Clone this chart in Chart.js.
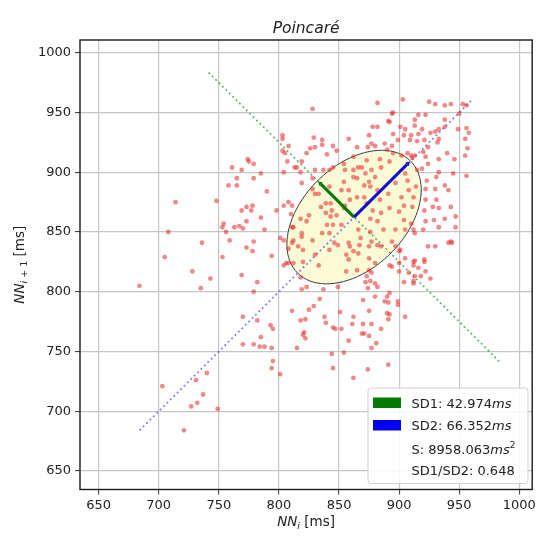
<!DOCTYPE html>
<html>
<head>
<meta charset="utf-8">
<script src="https://cdn.jsdelivr.net/npm/chart.js@4.4.0/dist/chart.umd.min.js"></script>
<style>
  body { margin: 0; background: #fff; }
  canvas { display: block; }
</style>
</head>
<body>
<canvas id="poincare" width="539" height="536"></canvas>
<script>
// --- data (ms) ---
// each pair is [NN_i, NN_i+1]
const nnPoints = [
  // upper left cloud
  [803,931],[803,928],[808,922],[803,918],[805,916],[807,909],[804,900],[813,904],[774,911],[775,909],[779,907],[761,904],
  [769,902],[785,899],[765,895],[779,895],[758,889],[765,889],[790,884],[714,875],[748,876],[773,871],[778,872],[769,868],
  [777,868],[798,868],[808,875],[804,872],[811,872],[785,862],[773,859],[754,857],[753,854],[756,850],[767,855],[770,853],
  [788,852],[708,850],[736,841],[759,843],[779,842],[801,845],[804,843],[773,837],[778,834],[808,836],[705,829],[753,829],
  // lower left
  [794,830],[808,824],[728,817],[769,814],[743,811],[782,808],[684,805],[735,803],[779,800],[811,784],[770,779],[782,776],
  [793,772],[795,769],[785,762],[770,756],[779,756],[784,754],[788,754],[794,753],[815,753],[795,742],[794,736],[801,731],
  [740,732],[731,726],[703,721],[737,714],[732,707],[727,704],[749,702],[721,684],
  [818,812],[819,802],[823,804],[837,802],[834,794],[829,788],[825,785],[822,777],[818,776],[838,779],[839,774],[845,770],
  [847,769],[821,766],[820,764],[822,761],[844,748],[845,736],[833,822],
  // lower right
  [856,817],[865,818],[873,813],[877,816],[872,808],[876,809],[880,807],[892,822],[894,821],[900,824],[900,817],[908,816],
  [912,825],[921,825],[916,820],[913,813],[912,807],[922,817],[926,811],[904,808],[892,799],[890,796],[888,792],[880,796],
  [870,793],[875,784],[891,791],[899,792],[899,789],[890,782],[892,781],[891,777],[905,779],[851,783],[862,779],[861,773],
  [870,773],[852,769],[871,765],[877,773],[885,769],[858,759],[881,757],[877,753],[854,749],[891,739],[874,735],[862,728],
  [875,763],[869,765],[812,824],[806,824],[849,804],[874,803],[882,804],[867,839],[875,838],[882,839],[897,838],[900,834],
  [905,828],[913,826],[921,827],[912,822],[912,809],[944,841],[930,838],[858,827],[820,835],[858,841],[804,822],[918,813],
  // upper middle
  [828,953],[829,929],[836,927],[836,923],[840,915],[823,916],[830,921],[819,909],[815,904],[818,900],[830,902],[837,902],
  [842,902],[845,904],[819,891],[828,895],[828,886],[830,882],[833,882],[810,865],[825,864],[818,861],[823,859],[763,854],
  [811,854],[812,843],[819,846],[828,843],[836,849],[840,856],[843,863],[835,871],[839,866],[845,856],[843,874],
  // upper right
  [882,958],[903,961],[925,959],[930,957],[938,956],[943,957],[953,957],[956,956],[950,949],[894,949],[916,948],[922,948],
  [913,944],[938,944],[892,942],[878,938],[901,938],[905,936],[913,939],[919,936],[926,933],[930,934],[933,936],[938,938],
  [949,936],[956,937],[895,932],[904,931],[910,931],[916,932],[899,927],[909,927],[915,926],[921,927],[933,928],[932,925],
  [924,921],[955,928],[877,924],[874,921],[880,922],[888,924],[894,922],[890,919],[895,916],[902,914],[910,914],[913,914],
  [920,917],[922,913],[933,911],[940,916],[946,911],[955,914],[924,907],[919,903],[915,902],[933,900],[945,899],[956,897],
  [923,893],[931,896],[938,889],[941,885],[922,886],[930,886],[922,877],[931,877],[943,871],[933,870],[921,868],[929,860],
  [938,861],[933,854],[947,863],[947,854],[922,859],[920,852],[913,849],[924,838],[943,842],[907,916],[911,912],
  // inside the ellipse
  [855,902],[862,902],[865,895],[869,904],[877,902],[885,904],[892,909],[880,896],[871,889],[876,888],[882,885],[897,891],
  [905,899],[907,893],[852,885],[858,885],[865,879],[871,879],[873,874],[859,877],[854,870],[884,877],[891,882],[902,879],
  [908,885],[914,888],[912,879],[911,871],[904,872],[900,867],[892,870],[885,866],[878,868],[876,861],[882,859],[904,860],
  [910,857],[905,852],[897,852],[887,852],[876,850],[866,852],[868,845],[859,838],[877,842],[885,838],[894,842],[901,835],
  [912,852],[812,854],[819,849],[811,841],[842,849],[846,841],[842,835],[852,856],[848,864],[844,868],[855,872],[839,874],
  [842,888],[854,892],[862,896],[866,904],[872,899],[875,892],[854,907],[862,913],[873,910],[884,911],[865,921],[848,918],
  [895,950],[891,943],[882,938],[858,928],[875,931],[845,922],[826,920],[957,920],[941,841],[928,871],[958,933],
  [816,838],[820,825],[830,831],[849,839],[856,831],[862,834],[866,832],[875,828],[880,824],[875,818]
];

const xTicks = [650, 700, 750, 800, 850, 900, 950, 1000];
const yTicks = [650, 700, 750, 800, 850, 900, 950, 1000];
const axisMin = 634.5;
const axisMax = 1010.7;

// Poincaré parameters
const nnMean = 862.5;
const sd1 = 42.974;
const sd2 = 66.352;
const ellipseArea = 8958.063;
const sdRatio = 0.648;
const nnRange = [684, 961];   // identity line from min(nn) to max(nn)
const sd1Reach = 121;         // half extent of the SD1 axis line

const FONT = "'DejaVu Sans', sans-serif";
const TXT = '#222222';

function font(size, italic) {
    return (italic ? 'italic ' : '') + size + 'px ' + FONT;
}

// draws a row of text pieces [text, size, italic, dy]
function drawRuns(ctx, runs, x, y, align) {
    ctx.textAlign = 'left';
    let w = 0;
    runs.forEach(r => { ctx.font = font(r[1], r[2]); w += ctx.measureText(r[0]).width; });
    let cx = align === 'center' ? x - w / 2 : x;
    runs.forEach(r => {
        ctx.font = font(r[1], r[2]);
        ctx.fillText(r[0], cx, y + (r[3] || 0));
        cx += ctx.measureText(r[0]).width;
    });
}

const poincarePlugin = {
    id: 'poincareExtras',
    beforeDatasetsDraw(chart) {
        const { ctx, scales: { x, y } } = chart;
        // SD ellipse
        ctx.save();
        ctx.beginPath();
        for (let k = 0; k <= 90; k++) {
            const t = k / 90 * Math.PI * 2;
            const a = sd2 * Math.cos(t) * Math.SQRT1_2;
            const b = sd1 * Math.sin(t) * Math.SQRT1_2;
            const px = x.getPixelForValue(nnMean + a - b);
            const py = y.getPixelForValue(nnMean + a + b);
            k === 0 ? ctx.moveTo(px, py) : ctx.lineTo(px, py);
        }
        ctx.closePath();
        ctx.fillStyle = '#fbfad6';
        ctx.fill();
        ctx.strokeStyle = '#3c3c3c';
        ctx.lineWidth = 1;
        ctx.stroke();
        ctx.restore();
    },
    afterDatasetsDraw(chart) {
        const { ctx, scales: { x, y } } = chart;
        const arrow = (len, dirX, color) => {
            const shaft = len - 4;
            const c0x = x.getPixelForValue(nnMean), c0y = y.getPixelForValue(nnMean);
            const ex = x.getPixelForValue(nnMean + dirX * shaft * Math.SQRT1_2);
            const ey = y.getPixelForValue(nnMean + shaft * Math.SQRT1_2);
            const tx = x.getPixelForValue(nnMean + dirX * (shaft + 3) * Math.SQRT1_2);
            const ty = y.getPixelForValue(nnMean + (shaft + 3) * Math.SQRT1_2);
            ctx.save();
            ctx.strokeStyle = color;
            ctx.fillStyle = color;
            ctx.lineWidth = 3;
            ctx.beginPath();
            ctx.moveTo(c0x, c0y);
            ctx.lineTo(ex, ey);
            ctx.stroke();
            const ang = Math.atan2(ty - ey, tx - ex);
            const hw = 2.6;
            ctx.beginPath();
            ctx.moveTo(tx, ty);
            ctx.lineTo(ex + Math.cos(ang + Math.PI / 2) * hw, ey + Math.sin(ang + Math.PI / 2) * hw);
            ctx.lineTo(ex - Math.cos(ang + Math.PI / 2) * hw, ey - Math.sin(ang + Math.PI / 2) * hw);
            ctx.closePath();
            ctx.fill();
            ctx.restore();
        };
        arrow(sd1, -1, '#007a00');
        arrow(sd2, 1, '#1010c8');
    },
    afterDraw(chart) {
        const { ctx, chartArea: a } = chart;
        ctx.save();
        // axes frame
        ctx.strokeStyle = '#1a1a1a';
        ctx.lineWidth = 1.4;
        ctx.strokeRect(a.left, a.top, a.right - a.left, a.bottom - a.top);

        ctx.fillStyle = TXT;
        ctx.textBaseline = 'alphabetic';
        // title
        drawRuns(ctx, [['Poincaré', 15.5, true]], (a.left + a.right) / 2, 32.5, 'center');
        // x label
        drawRuns(ctx, [['NN', 13.5, true], ['i', 9.5, true, 3], [' [ms]', 13.5, false]],
            (a.left + a.right) / 2, 526, 'center');
        // y label
        ctx.save();
        ctx.translate(23.5, (a.top + a.bottom) / 2);
        ctx.rotate(-Math.PI / 2);
        drawRuns(ctx, [['NN', 13.5, true], ['i', 9.5, true, 3], [' + 1', 9.5, false, 3], [' [ms]', 13.5, false]],
            0, 0, 'center');
        ctx.restore();

        // legend box
        const lx = 368, ly = 388, lw = 160, lh = 95.5, r = 3;
        ctx.beginPath();
        ctx.moveTo(lx + r, ly);
        ctx.arcTo(lx + lw, ly, lx + lw, ly + lh, r);
        ctx.arcTo(lx + lw, ly + lh, lx, ly + lh, r);
        ctx.arcTo(lx, ly + lh, lx, ly, r);
        ctx.arcTo(lx, ly, lx + lw, ly, r);
        ctx.closePath();
        ctx.fillStyle = 'rgba(255,255,255,0.85)';
        ctx.fill();
        ctx.strokeStyle = '#d0d0d0';
        ctx.lineWidth = 1;
        ctx.stroke();

        ctx.fillStyle = '#007a00';
        ctx.fillRect(373, 397.5, 28, 10.5);
        ctx.fillStyle = '#0000f0';
        ctx.fillRect(373, 420, 28, 10.5);

        ctx.fillStyle = TXT;
        const tx = 411.5;
        drawRuns(ctx, [['SD1: ' + sd1.toFixed(3), 13, false], ['ms', 13, true]], tx, 407.5);
        drawRuns(ctx, [['SD2: ' + sd2.toFixed(3), 13, false], ['ms', 13, true]], tx, 430);
        drawRuns(ctx, [['S: ' + ellipseArea.toFixed(3), 13, false], ['ms', 13, true], ['2', 9, false, -6]], tx, 453.5);
        drawRuns(ctx, [['SD1/SD2: ' + sdRatio.toFixed(3), 13, false]], tx, 474.5);
        ctx.restore();
    }
};

const tickFont = { family: FONT, size: 13 };
const gridOpts = { color: '#c6c6c6', lineWidth: 1.2, tickLength: 5, tickColor: '#333333', tickWidth: 1 };
const plainLabel = v => String(v);

new Chart(document.getElementById('poincare'), {
    type: 'scatter',
    data: {
        datasets: [
            {
                label: 'NN',
                data: nnPoints.map(p => ({ x: p[0], y: p[1] })),
                backgroundColor: 'rgba(228,40,40,0.55)',
                borderWidth: 0,
                pointRadius: 2.4,
                order: 0
            },
            {
                type: 'line',
                label: 'identity',
                data: nnRange.map(v => ({ x: v, y: v })),
                borderColor: 'rgba(40,40,230,0.6)',
                borderWidth: 1.8,
                borderDash: [1.8, 3],
                pointRadius: 0,
                order: 1
            },
            {
                type: 'line',
                label: 'sd1 axis',
                data: [
                    { x: nnMean - sd1Reach, y: nnMean + sd1Reach },
                    { x: nnMean + sd1Reach, y: nnMean - sd1Reach }
                ],
                borderColor: 'rgba(0,128,0,0.6)',
                borderWidth: 1.8,
                borderDash: [1.8, 3],
                pointRadius: 0,
                order: 1
            }
        ]
    },
    options: {
        responsive: false,
        animation: false,
        layout: { padding: { top: 40, right: 4.4, left: 0, bottom: 0 } },
        plugins: { legend: { display: false }, tooltip: { enabled: false }, title: { display: false } },
        scales: {
            x: {
                type: 'linear', min: axisMin, max: axisMax,
                afterBuildTicks: s => { s.ticks = xTicks.map(v => ({ value: v })); },
                afterFit: s => { s.height = 46.5; },
                grid: gridOpts,
                border: { display: false },
                ticks: { font: tickFont, color: TXT, padding: 3, maxRotation: 0, autoSkip: false, callback: plainLabel }
            },
            y: {
                type: 'linear', min: axisMin, max: axisMax,
                afterBuildTicks: s => { s.ticks = yTicks.map(v => ({ value: v })); },
                afterFit: s => { s.width = 80; },
                grid: gridOpts,
                border: { display: false },
                ticks: { font: tickFont, color: TXT, padding: 4, autoSkip: false, callback: plainLabel }
            }
        }
    },
    plugins: [poincarePlugin]
});
</script>
</body>
</html>
